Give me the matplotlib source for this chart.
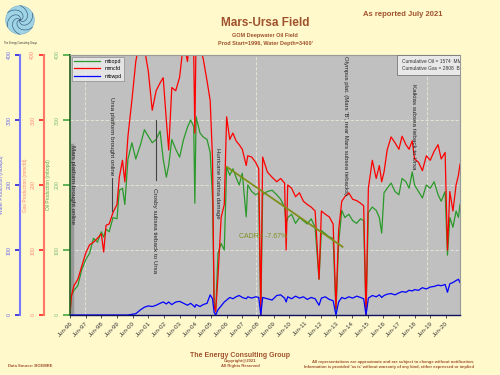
import matplotlib
matplotlib.use('Agg')
import matplotlib.pyplot as plt
import numpy as np
from matplotlib.patches import Circle

# production history (decimal years)
years = [1996.50, 1996.58, 1996.75, 1997.00, 1997.25, 1997.50, 1997.75,
         1998.00, 1998.25, 1998.50, 1998.65, 1998.80, 1999.00, 1999.25,
         1999.50, 1999.65, 1999.85, 2000.00, 2000.20, 2000.45, 2000.70,
         2001.00, 2001.25, 2001.50, 2001.75, 2002.00, 2002.25, 2002.45,
         2002.65, 2002.80, 2003.00, 2003.25, 2003.50, 2003.75, 2004.00,
         2004.20, 2004.40, 2004.47, 2004.55, 2004.80, 2005.00, 2005.25,
         2005.45, 2005.60, 2005.70, 2005.80, 2005.95, 2006.15, 2006.35,
         2006.50, 2006.70, 2006.90, 2007.10, 2007.30, 2007.50, 2007.75,
         2007.85, 2008.10, 2008.35, 2008.55, 2008.68, 2008.80, 2009.10,
         2009.40, 2009.70, 2009.95, 2010.20, 2010.30, 2010.40, 2010.65,
         2010.90, 2011.15, 2011.40, 2011.65, 2011.90, 2012.15, 2012.40,
         2012.55, 2012.80, 2013.05, 2013.30, 2013.48, 2013.65, 2013.85,
         2014.05, 2014.30, 2014.55, 2014.80, 2015.05, 2015.25, 2015.40,
         2015.55, 2015.80, 2016.05, 2016.25, 2016.40, 2016.55, 2016.75,
         2017.00, 2017.25, 2017.50, 2017.70, 2017.95, 2018.15, 2018.35,
         2018.50, 2018.75, 2019.00, 2019.25, 2019.50, 2019.75, 2020.00,
         2020.20, 2020.45, 2020.60, 2020.75, 2020.95, 2021.15, 2021.30,
         2021.40]

oil = [0, 30, 38, 45, 70, 85, 95,
       118, 112, 128, 120, 132, 128, 150,
       148, 192, 195, 170, 240, 265, 240,
       262, 285, 275, 265, 270, 283, 240,
       212, 230, 270, 255, 243, 270, 289,
       300, 290, 172, 305, 280, 274, 270,
       250, 180, 20, 5, 95, 110, 100,
       228, 215, 225, 212, 200, 218, 151,
       200, 190, 185, 188, 0, 185, 190,
       192, 185, 178, 166, 140, 150, 155,
       141, 150, 145, 140, 148, 135, 55,
       130, 125, 120, 118, 5, 110, 161,
       150, 155, 145, 141, 148, 145, 0,
       158, 166, 161, 150, 126, 188, 195,
       203, 190, 185, 210, 205, 195, 220,
       200, 190, 180, 200, 195, 205, 185,
       175, 190, 92, 150, 135, 160, 150,
       170]

gas = [0, 28, 45, 55, 75, 95, 108,
       112, 118, 125, 97, 138, 140, 158,
       170, 212, 238, 205, 275, 330, 390,
       430, 410, 375, 315, 345, 357, 365,
       300, 254, 350, 345, 366, 420, 390,
       440, 400, 280, 430, 410, 395, 360,
       330, 240, 15, 5, 60, 150, 170,
       305, 270, 280, 268, 262, 255, 230,
       245, 243, 235, 225, 0, 243, 220,
       212, 205, 210, 203, 100, 200, 195,
       182, 188, 175, 170, 166, 160, 55,
       160, 155, 151, 140, 10, 130, 175,
       182, 188, 178, 176, 172, 168, 0,
       195, 238, 210, 230, 205, 220, 254,
       274, 265, 255, 275, 262, 255, 268,
       240, 235, 222, 245, 238, 252, 262,
       240, 250, 100, 190, 160, 200, 215,
       232]

water = [0, 0, 0, 0, 0, 0, 0,
         0, 0, 0, 0, 0, 0, 0,
         0, 0, 0, 0, 0, 1, 2,
         8, 12, 14, 13, 15, 18, 20,
         17, 20, 16, 20, 21, 18, 15,
         18, 14, 12, 16, 13, 16, 18,
         31, 25, 4, 0, 8, 14, 20,
         23, 27, 25, 28, 30, 27, 25,
         28, 26, 28, 27, 0, 27, 25,
         23, 30, 31, 26, 20, 28, 25,
         29, 26, 28, 24, 27, 25, 15,
         26, 28, 24, 22, 0, 20, 27,
         25, 28, 26, 29, 27, 25, 0,
         26, 30, 28, 31, 27, 30, 32,
         33, 31, 34, 36, 35, 38, 37,
         39, 38, 42, 40, 43, 44, 46,
         45, 47, 35, 48, 50, 53, 55,
         50]

# oil decline trend
trend_years = [2006.5, 2013.9]
trend_oil = [228, 105]

tick_years = [1996.5 + k for k in range(25)]
tick_labels = ['Jun-96', 'Jun-97', 'Jun-98', 'Jun-99', 'Jun-00', 'Jun-01',
               'Jun-02', 'Jun-03', 'Jun-04', 'Jun-05', 'Jun-06', 'Jun-07',
               'Jun-08', 'Jun-09', 'Jun-10', 'Jun-11', 'Jun-12', 'Jun-13',
               'Jun-14', 'Jun-15', 'Jun-16', 'Jun-17', 'Jun-18', 'Jun-19',
               'Jun-20']
y_ticks = [0, 100, 200, 300, 400]

plt.rcParams['font.family'] = ['Liberation Sans', 'DejaVu Sans']
BROWN = '#a0522d'
BG = '#fff9cc'

fig = plt.figure(figsize=(5, 3.75), dpi=100, facecolor=BG)
ax = fig.add_axes([0.14, 0.16, 0.78, 0.6933])
ax.set_facecolor('#c0c0c0')

l_oil, = ax.plot(years, oil, color='#2a9a2a', lw=0.9, label='mbopd')
l_gas, = ax.plot(years, gas, color='#ff0000', lw=0.9, label='mmcfd')
l_wat, = ax.plot(years, water, color='#0000ff', lw=0.9, label='mbwpd')
ax.plot(trend_years, trend_oil, color='#7f8f1a', lw=1.3)
ax.text(2007.3, 118, 'CADR= -7.67%', fontsize=5, color='#7f9020')

ax.set_xlim(1996.5, 2021.4)
ax.set_ylim(0, 400)

# grid
for gy in y_ticks[1:-1]:
    ax.axhline(gy, color='#e8e8d8', lw=0.6, ls=(0, (4, 2)), zorder=0.5)
for gx in [1997.46, 2008.40, 2019.32]:
    ax.axvline(gx, color='#e8e8d8', lw=0.6, ls=(0, (4, 2)), zorder=0.5)

ax.set_xticks(tick_years)
ax.set_xticklabels(tick_labels, rotation=45, ha='right', rotation_mode='anchor',
                   fontsize=4.5, color='#333333')
ax.tick_params(axis='x', length=2.5, width=0.6, color='#333333', pad=1.5)

ax.spines['left'].set_color('#1f5f1f')
ax.spines['left'].set_linewidth(1.2)
ax.spines['bottom'].set_color('#101060')
ax.spines['bottom'].set_linewidth(1.0)
for s in ['top', 'right']:
    ax.spines[s].set_color('#999999')
    ax.spines[s].set_linewidth(0.8)

ax.set_yticks(y_ticks)
ax.set_yticklabels([str(v) for v in y_ticks], rotation=90, fontsize=3.8,
                   color='#77bb77', va='center')
ax.tick_params(axis='y', length=5, width=1.2, color='#44aa44', pad=2.5)
ax.set_ylabel('Oil Production (mbopd)', fontsize=3.5, color='#55aa55')
ax.yaxis.set_label_coords(-0.048, 0.5)

# extra left axes for gas and water scales
axis_specs = [
    ('Gas Production (mmcfd)', 19, '#ff7766', '#ff2222', '#ff8877', -0.108),
    ('Water Production (mbwpd)', 36, '#7777ff', '#2222dd', '#6666ee', -0.168),
]
for label, offset, spine_col, tick_col, lab_col, lab_x in axis_specs:
    tw = ax.twinx()
    tw.set_ylim(0, 400)
    tw.spines['left'].set_visible(True)
    tw.spines['left'].set_position(('outward', offset))
    tw.spines['left'].set_color(spine_col)
    tw.spines['left'].set_linewidth(1.5)
    for s in ['right', 'top', 'bottom']:
        tw.spines[s].set_visible(False)
    tw.yaxis.set_ticks_position('left')
    tw.yaxis.set_label_position('left')
    tw.set_yticks(y_ticks)
    tw.set_yticklabels([str(v) for v in y_ticks], rotation=90, fontsize=3.8,
                       color=lab_col, va='center')
    tw.tick_params(axis='y', length=3.5, width=1.2, color=tick_col, pad=2.5)
    tw.set_ylabel(label, fontsize=3.5, color=lab_col)
    tw.yaxis.set_label_coords(lab_x, 0.5)

leg = ax.legend(handles=[l_oil, l_gas, l_wat], loc='upper left', fontsize=3.8,
                frameon=True, fancybox=False, borderaxespad=0.3,
                handlelength=5, facecolor='#eeeeee', edgecolor='#888888')
leg.get_frame().set_linewidth(0.6)
leg.set_zorder(5)

ax.text(0.85, 0.985, 'Cumulative Oil = 1574  MMBO\nCumulative Gas = 2808  BCF',
        transform=ax.transAxes, fontsize=3.5, va='top', ha='left',
        color='#333333', clip_on=True, linespacing=1.4,
        bbox=dict(facecolor='#e8e8e8', edgecolor='#777777', lw=0.6,
                  boxstyle='square,pad=0.9'), zorder=6)

# event annotations
events = [
    (1996.66, 262, 'Mars platform brought online', 4.5),
    (1999.16, 336, 'Ursa platform brought online', 4.5),
    (2001.92, 196, 'Crosby subsea tieback to Ursa', 4.5),
    (2005.90, 257, 'Hurricane Katrina damage', 4.3),
    (2014.12, 398, "Olympus plat. (Mars 'B', near Mars subsea tiebacks)", 4.3),
    (2018.40, 356, 'Kaikias subsea tieback to Ursa', 4.5),
]
for ex, ey, txt, fs in events:
    ax.text(ex, ey, txt, rotation=-90, fontsize=fs, ha='center', va='top',
            color='#222222', zorder=4)
ax.plot([1996.62, 1996.62], [0, 262], color='#888888', lw=2.5, alpha=0.7,
        zorder=1)
ax.plot([1999.19, 1999.19], [211, 160], color='#444444', lw=0.8, zorder=4)
ax.plot([2002.02, 2002.02], [300, 208], color='#444444', lw=0.8, zorder=4)

# titles
fig.text(0.53, 0.94, 'Mars-Ursa Field', fontsize=8.5, fontweight='bold',
         color=BROWN, ha='center', va='center')
fig.text(0.53, 0.905, 'GOM Deepwater Oil Field', fontsize=4, fontweight='bold',
         color=BROWN, ha='center', va='center')
fig.text(0.53, 0.885, "Prod Start=1996, Water Depth=3400'", fontsize=4,
         fontweight='bold', color=BROWN, ha='center', va='center')
fig.text(0.805, 0.96, 'As reported July 2021', fontsize=5.5,
         fontweight='bold', color=BROWN, ha='center', va='center')

# footer
fig.text(0.48, 0.053, 'The Energy Consulting Group', fontsize=5,
         fontweight='bold', color=BROWN, ha='center', va='center')
fig.text(0.48, 0.037, 'Copyright@2021', fontsize=3, fontweight='bold',
         color=BROWN, ha='center', va='center')
fig.text(0.48, 0.023, 'All Rights Reserved', fontsize=3, fontweight='bold',
         color=BROWN, ha='center', va='center')
fig.text(0.016, 0.023, 'Data Source: BOEMRE', fontsize=3, fontweight='bold',
         color=BROWN, ha='left', va='center')
fig.text(0.948, 0.035,
         'All representations are approximate and are subject to change without notification.',
         fontsize=3, fontweight='bold', color=BROWN, ha='right', va='center')
fig.text(0.948, 0.021,
         "Information is provided 'as is' without warranty of any kind, either expressed or implied",
         fontsize=3, fontweight='bold', color=BROWN, ha='right', va='center')

# logo
lax = fig.add_axes([0.01, 0.9067, 0.06, 0.08])
lax.set_xlim(-1.05, 1.05)
lax.set_ylim(-1.05, 1.05)
lax.set_aspect('equal')
lax.axis('off')
lax.add_patch(Circle((0, 0), 1, facecolor='#9fd4e6', edgecolor='#7fb8cc', lw=0.5))
th = np.linspace(0, 2.6, 50)
for k in range(6):
    r = th / 2.6
    lax.plot(r * np.cos(th + k * np.pi / 3), r * np.sin(th + k * np.pi / 3),
             color='#2a4a6a', lw=0.4)
fig.text(0.04, 0.885, 'The Energy Consulting Group', fontsize=1.8,
         color='#333333', ha='center', va='center')

fig.savefig('out.png', dpi=100, facecolor=BG)
